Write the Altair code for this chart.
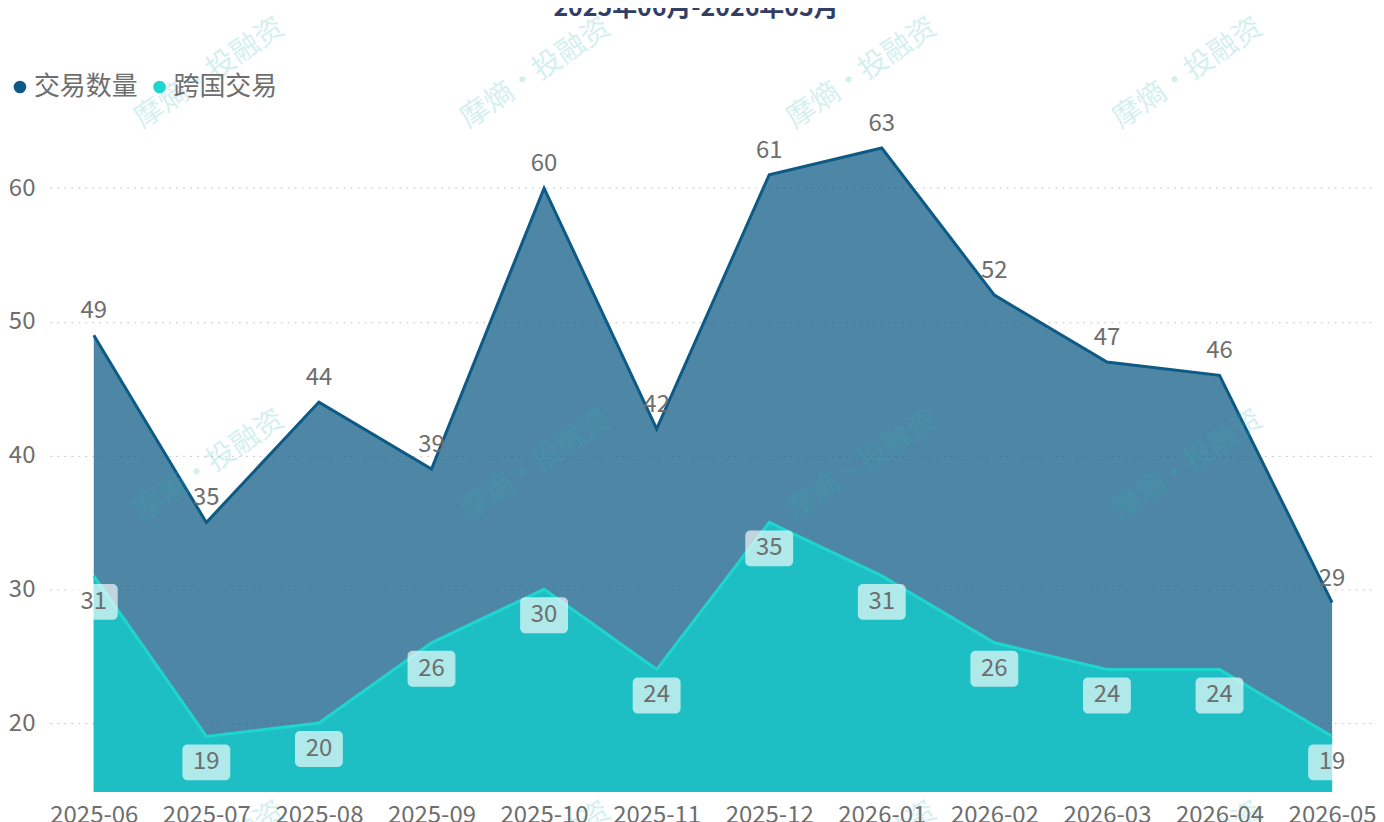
import altair as alt
import pandas as pd

months = ["2025-06", "2025-07", "2025-08", "2025-09", "2025-10", "2025-11",
          "2025-12", "2026-01", "2026-02", "2026-03", "2026-04", "2026-05"]
total_deals = [49, 35, 44, 39, 60, 42, 61, 63, 52, 47, 46, 29]
cross_border = [31, 19, 20, 26, 30, 24, 35, 31, 26, 24, 24, 19]
series_names = ["交易数量", "跨国交易"]
y_ticks = [20, 30, 40, 50, 60]
title_text = "2025年06月-2026年05月"
watermark_text = "摩熵·投融资"

FONT = "Noto Sans CJK SC"
DARK = "#0d5a85"
CYAN = "#1fd6cf"
TEAL_FILL = "#1dbfc4"
LABEL = "#6e6e6e"
Y_MIN = 14.85

df = pd.DataFrame({
    "month": months * 2,
    "series": [series_names[0]] * len(months) + [series_names[1]] * len(months),
    "value": total_deals + cross_border,
})

x_enc = alt.X("month:N", sort=months,
              scale=alt.Scale(type="point", padding=0.39),
              axis=alt.Axis(title=None, labelAngle=0, domain=False, ticks=False,
                            grid=False, labelFontSize=24, labelColor=LABEL,
                            labelPadding=12, labelFont=FONT))
y_enc = alt.Y("value:Q",
              scale=alt.Scale(domain=[Y_MIN, 66], nice=False, zero=False),
              axis=alt.Axis(title=None, values=y_ticks, domain=False, ticks=False,
                            grid=True, gridDash=[2, 5], gridColor="#c8c8c8",
                            gridWidth=1, labelFontSize=24, labelColor=LABEL,
                            labelPadding=15, labelFont=FONT, zindex=0))

base = alt.Chart(df).encode(x=x_enc, y=y_enc)
tot = base.transform_filter(alt.datum.series == series_names[0])
crs = base.transform_filter(alt.datum.series == series_names[1])

area_tot = tot.mark_area(color=DARK, opacity=0.73).encode(y2=alt.datum(Y_MIN))
line_tot = tot.mark_line(color=DARK, strokeWidth=3)
area_crs = crs.mark_area(color=TEAL_FILL, opacity=1).encode(y2=alt.datum(Y_MIN))
line_crs = crs.mark_line(color=CYAN, strokeWidth=3)

text_tot = tot.mark_text(dy=-24, fontSize=24, color=LABEL, font=FONT).encode(
    text="value:Q")
box_crs = crs.mark_rect(width=48, height=36, cornerRadius=5, color="white",
                        opacity=0.65, yOffset=26)
text_crs = crs.mark_text(dy=26, fontSize=24, color=LABEL, font=FONT).encode(
    text="value:Q")

legend_layer = base.mark_circle(opacity=0, size=10).encode(
    color=alt.Color("series:N",
                    scale=alt.Scale(domain=series_names, range=[DARK, CYAN]),
                    legend=alt.Legend(title=None, orient="none", legendX=-43,
                                      legendY=-34, direction="horizontal",
                                      symbolType="circle", symbolSize=160,
                                      symbolOpacity=1, symbolStrokeWidth=0,
                                      labelFontSize=26, labelColor=LABEL,
                                      labelFont=FONT, labelOffset=1,
                                      columnPadding=8))
)

one_row = pd.DataFrame({"t": [title_text]})
title_layer = alt.Chart(one_row).mark_text(
    fontSize=25, fontWeight="bold", color="#333e66", font=FONT,
    baseline="alphabetic", align="center").encode(
    x=alt.value(648), y=alt.value(-92), text="t:N")

wm_df = pd.DataFrame({"t": [watermark_text]})
wm_layers = []
for wy in [-35, 358, 751]:
    for wx in [160, 487, 814, 1141]:
        wm_layers.append(
            alt.Chart(wm_df).mark_text(angle=326, fontSize=29, color="#2bb5b0",
                                       opacity=0.2, font=FONT).encode(
                x=alt.value(wx), y=alt.value(wy), text="t:N"))

chart = alt.layer(area_tot, line_tot, area_crs, line_crs, text_tot, box_crs,
                  text_crs, legend_layer, title_layer, *wm_layers).properties(
    width=1330, height=686,
    autosize=alt.AutoSizeParams(type="none"),
    padding={"left": 42, "top": 99, "right": 0, "bottom": 29},
).configure(font=FONT).configure_view(strokeWidth=0, stroke="transparent")

chart.save("out.html", embed_options={"renderer": "svg", "actions": False})
